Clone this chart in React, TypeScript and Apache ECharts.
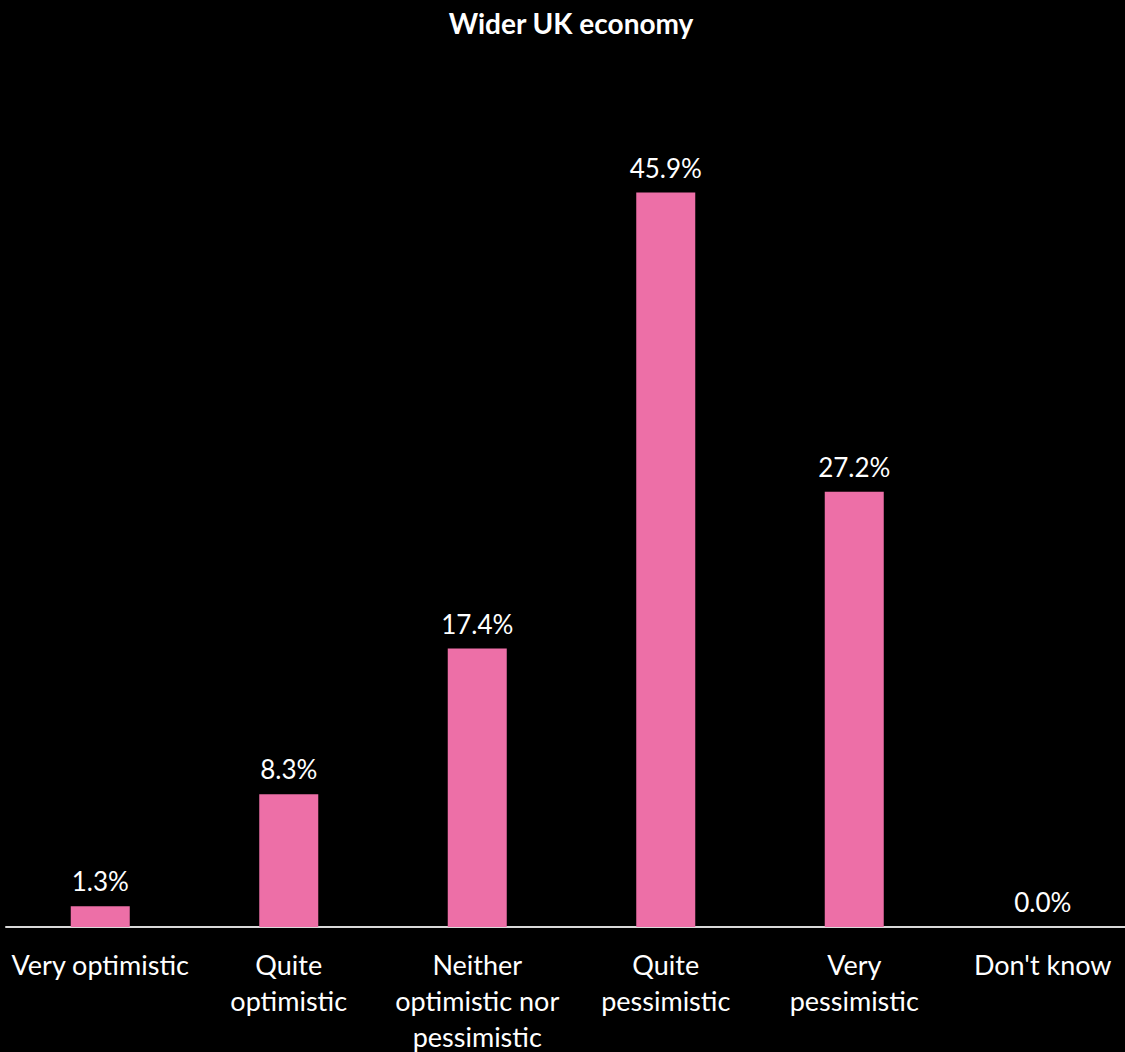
import React, { useEffect, useRef } from "react";
import * as echarts from "echarts";

const categories = [
  "Very optimistic",
  "Quite\noptimistic",
  "Neither\noptimistic nor\npessimistic",
  "Quite\npessimistic",
  "Very\npessimistic",
  "Don't know",
];
const values = [1.3, 8.3, 17.4, 45.9, 27.2, 0.0];
const titleText = "Wider UK economy";

export default function App() {
  const ref = useRef<HTMLDivElement>(null);
  useEffect(() => {
    document.body.style.margin = "0";
    document.body.style.background = "#000";
    document.documentElement.style.overflow = "hidden";
    document.body.style.overflow = "hidden";
    const chart = echarts.init(ref.current!, null, { renderer: "svg" });
    const font = "Lato, 'Open Sans', sans-serif";
    chart.setOption({
      animation: false,
      backgroundColor: "#000000",
      title: {
        text: titleText,
        left: 566,
        textAlign: "center",
        top: 4,
        textStyle: { color: "#ffffff", fontSize: 28, fontWeight: "bold", fontFamily: font },
      },
      grid: {
        left: 6,
        right: 0,
        top: 127,
        bottom: 125,
        containLabel: false,
        outerBoundsMode: "none",
      },
      xAxis: {
        type: "category",
        data: categories,
        axisLine: { show: true, lineStyle: { color: "#d9d9d9", width: 2 } },
        axisTick: { show: false },
        axisLabel: {
          color: "#ffffff",
          fontSize: 27,
          fontFamily: font,
          lineHeight: 36,
          margin: 19,
          interval: 0,
        },
      },
      yAxis: {
        type: "value",
        min: 0,
        max: 50,
        show: false,
        splitLine: { show: false },
      },
      series: [
        {
          type: "bar",
          data: values,
          barWidth: 59,
          itemStyle: { color: "#ED6FA7" },
          label: {
            show: true,
            position: "top",
            distance: 12,
            color: "#ffffff",
            fontSize: 26,
            fontFamily: font,
            formatter: (p: any) => p.value.toFixed(1) + "%",
          },
        },
      ],
    });
    return () => chart.dispose();
  }, []);
  return <div ref={ref} style={{ width: 1137, height: 1052 }} />;
}
